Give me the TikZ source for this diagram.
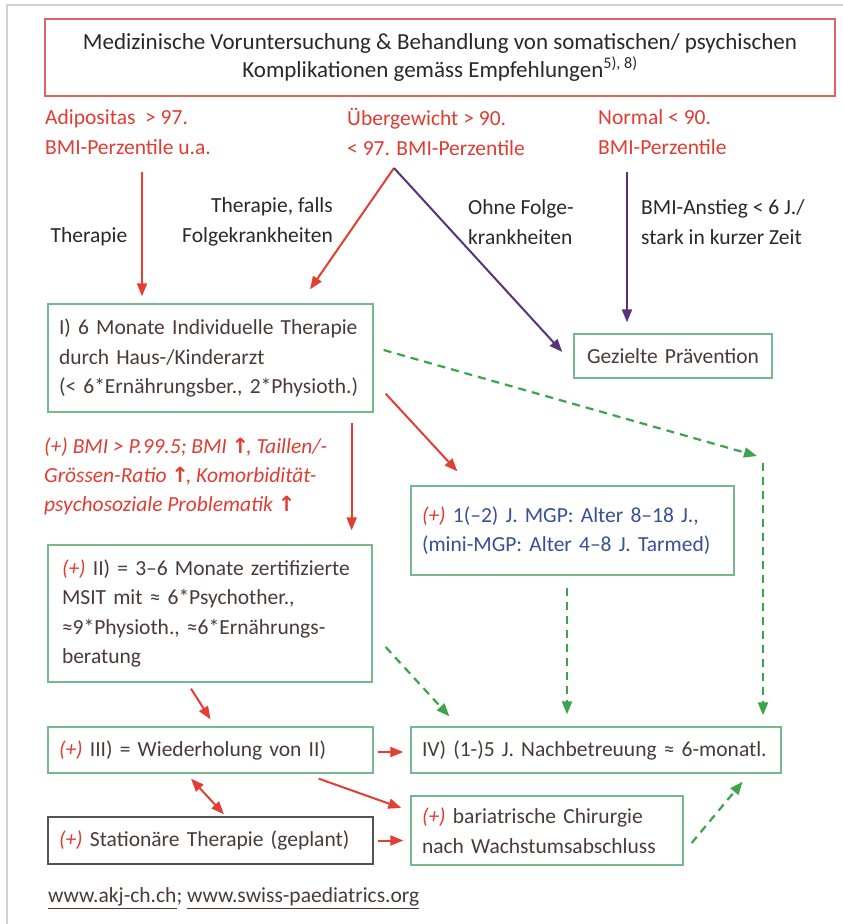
\documentclass[tikz,border=0pt]{standalone}
\usepackage{fontspec}
\setmainfont{Carlito}
\newfontfamily\symfont{DejaVu Sans}
\usepackage{xcolor}
\usepackage{tikz}
\usetikzlibrary{positioning,calc,arrows.meta}

\definecolor{rline}{RGB}{228,62,52}
\definecolor{rtext}{RGB}{226,60,50}
\definecolor{rbox}{RGB}{222,100,100}
\definecolor{gbox}{RGB}{120,185,140}
\definecolor{garrow}{RGB}{60,165,75}
\definecolor{purp}{RGB}{90,50,120}
\definecolor{btext}{RGB}{55,80,150}
\definecolor{txt}{RGB}{75,58,58}
\definecolor{dtxt}{RGB}{40,40,45}

\newcommand{\plusmark}{\textcolor{rtext}{\textit{(+)}}}
\newcommand{\upmark}{{\symfont\fontsize{21}{20}\selectfont\textbf{↑}}\kern-3pt}

\begin{document}
\begin{tikzpicture}[
  x=1pt, y=-1pt,
  font=\fontsize{21.5}{29.5}\selectfont,
  box/.style={draw=gbox, line width=1.3pt, align=left, text=txt,
              text width=#1, inner xsep=11pt, inner ysep=0pt},
  box/.default=303pt,
  lbl/.style={inner sep=0pt, text=dtxt},
  cat/.style={inner sep=0pt, align=left, text=rtext},
  arr/.style={-{Triangle[length=13pt,width=10pt]}, line width=2pt},
  rarr/.style={arr, draw=rline},
  parr/.style={arr, draw=purp},
  garr/.style={arr, draw=garrow, line width=2.2pt, dash pattern=on 8pt off 6pt}]
\useasboundingbox (0,0) rectangle (843,924);
\fill[white] (0,0) rectangle (843,924);
\draw[gray!35, line width=1.5pt] (7,924) -- (7,5) -- (843,5);

% top
\node[draw=rbox, line width=1.2pt, minimum width=790pt, minimum height=77pt,
      align=center, text=dtxt, font=\fontsize{23}{28}\selectfont] (top) at (440,57.5)
  {Medizinische Voruntersuchung \& Behandlung von somatischen/ psychischen\\
   Komplikationen gemäss Empfehlungen\textsuperscript{5), 8)}};
\node[cat, anchor=west] (adi) at (45,132) {Adipositas\ \ > 97.\\BMI-Perzentile u.a.};
\node[cat, anchor=west] (ueber) at (347,132) {Übergewicht > 90.\\< 97. BMI-Perzentile};
\node[cat, anchor=west] (normal) at (598,132) {Normal < 90.\\BMI-Perzentile};

% boxes
\node[box, minimum height=108pt] (boxI) at (210.5,358)
  {I) 6 Monate Individuelle Therapie\\durch Haus-/Kinderarzt\\(< 6*Ernährungsber., 2*Physioth.)};
\node[box=176pt, align=center, minimum height=44pt] (praev) at (673,356) {Gezielte Prävention};
\node[box=301pt, minimum height=89pt, text=btext] (mgp) at (572.5,530.5)
  {\plusmark\ 1(–2) J. MGP: Alter 8–18 J.,\\(mini-MGP: Alter 4–8 J. Tarmed)};
\node[box=296pt, inner xsep=14pt, minimum height=137pt] (boxII) at (210,613.5)
  {\plusmark\ II) = 3–6 Monate zertifizierte\\MSIT mit ≈ 6*Psychother.,\\≈9*Physioth., ≈6*Ernährungs-\\beratung};
\node[box, minimum height=46pt] (boxIII) at (210.5,750) {\plusmark\ III) = Wiederholung von II)};
\node[box=348pt, minimum height=46pt] (boxIV) at (596,750) {IV) (1-)5 J. Nachbetreuung ≈ 6-monatl.};
\node[box, draw=dtxt!80, minimum height=47pt] (stat) at (210.5,840.5) {\plusmark\ Stationäre Therapie (geplant)};
\node[box=250pt, minimum height=69pt] (bari) at (547,830.5)
  {\plusmark\ bariatrische Chirurgie\\nach Wachstumsabschluss};

% labels
\node[lbl] (lTher) at (89,237) {Therapie};
\node[lbl, anchor=east, align=right] (lFalls) at (333,222) {Therapie, falls\\Folgekrankheiten};
\node[lbl, anchor=west, align=left] (lOhne) at (468,222) {Ohne Folge-\\krankheiten};
\node[lbl, anchor=west, align=left] (lBmi) at (641,222) {BMI-Anstieg < 6 J./\\stark in kurzer Zeit};
\node[cat, anchor=west, font=\fontsize{21.5}{29}\selectfont\itshape] (lCrit) at (44,476)
  {(+) BMI > P.99.5; BMI \upmark, Taillen/-\\Grössen-Ratio \upmark, Komorbidität-\\psychosoziale Problematik \upmark};
\node[lbl, anchor=west, text=txt] (src) at (48,898)
  {\underline{www.akj-ch.ch}; \underline{www.swiss-paediatrics.org}};

% connectors
\coordinate (a1) at (142,172);
\coordinate (apex) at (394,168);
\coordinate (n1) at (627,172);
\coordinate (bend) at (757,456);
\coordinate (bend2) at (763,463);
\draw[rarr, shorten >=7pt] (a1) -- (a1 |- boxI.north);
\draw[rarr] (apex) -- ($(boxI.north)+(99.5,-14)$);
\draw[parr] (apex) -- ($(praev.west)+(-11,-4)$);
\draw[parr, shorten >=11pt] (n1) -- (n1 |- praev.north);
\draw[rarr] ($(boxI.south east)+(12,-19)$) -- ($(mgp.north west)+(47,-14)$);
\draw[garr] ($(boxI.east)+(10,-8)$) -- (bend);
\draw[garr, shorten >=11pt] (bend2) -- (bend2 |- boxIV.north);
\draw[rarr] ($(boxI.south east)+(-22,10)$) -- ($(boxII.north east)+(-21,-14)$);
\draw[garr] ($(mgp.south)+(-5.5,12)$) -- ($(mgp.south |- boxIV.north)+(-5.5,-12)$);
\draw[garr] ($(boxII.east)+(13,33.5)$) -- ($(boxIV.north west)+(39,-10)$);
\draw[rarr] ($(boxII.south)+(-19,6)$) -- ($(boxIII.north)+(0,-7)$);
\draw[rarr] ($(boxIII.east)+(4,2)$) -- ($(boxIV.west)+(-7,2)$);
\draw[rarr, {Triangle[length=13pt,width=10pt]}-{Triangle[length=13pt,width=10pt]}]
  ($(boxIII.south)+(-19.5,5)$) -- ($(stat.north)+(13.5,-2)$);
\draw[rarr] ($(boxIII.south east)+(-55,5)$) -- ($(bari.west)+(-9,-22.5)$);
\draw[rarr] ($(stat.east)+(4,0)$) -- ($(bari.west)+(-7,10)$);
\draw[garr] ($(bari.east)+(8,12.5)$) -- ($(boxIV.south east)+(-39,8)$);
\end{tikzpicture}
\end{document}
